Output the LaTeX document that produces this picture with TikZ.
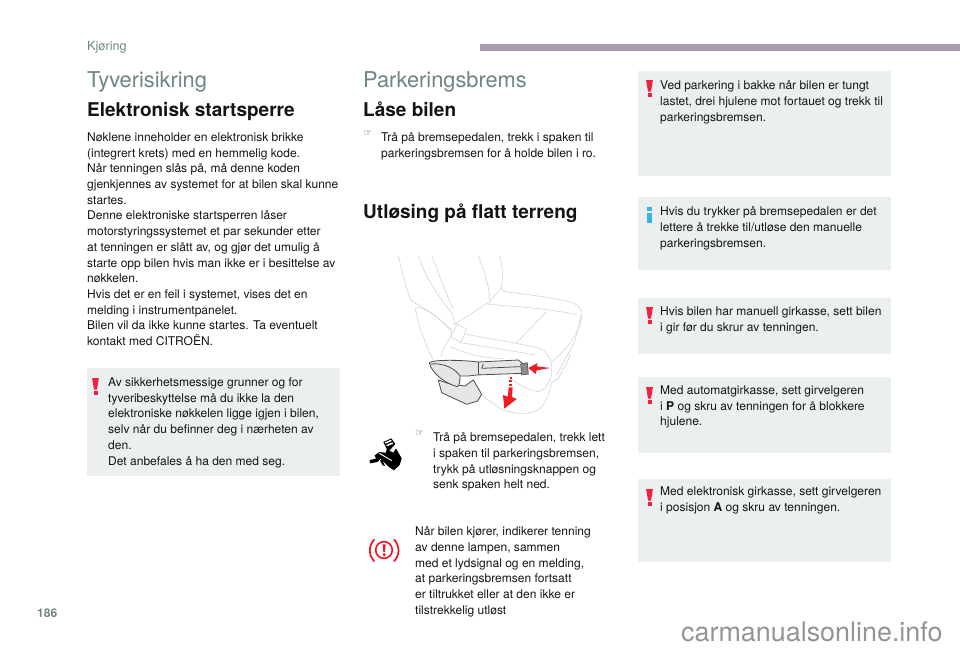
\documentclass[tikz,border=0pt]{standalone}
\usepackage{fontspec}
\setmainfont{TeX Gyre Heros}
\newfontfamily\dejavu{DejaVu Sans}
\definecolor{boxgrey}{HTML}{ECEFEF}
\definecolor{headgrey}{HTML}{6F8585}
\definecolor{barcol}{HTML}{A99CB0}
\definecolor{warnred}{HTML}{F0213F}
\definecolor{infoblue}{HTML}{35B5E5}
\definecolor{seatline}{HTML}{D3D8D6}
\definecolor{leverfill}{HTML}{E4E7E6}
\definecolor{arrowred}{HTML}{EE1C25}
\definecolor{lampred}{HTML}{F5141E}
\tikzset{
  body/.style={anchor=north west,inner sep=0pt,align=left,text=black!92,font=\fontsize{12.03}{15.7}\selectfont},
  title/.style={anchor=base west,inner sep=0pt,text=headgrey,font=\fontsize{21.8}{26}\selectfont},
  subtitle/.style={anchor=base west,inner sep=0pt,text=black!92,font=\bfseries\fontsize{19}{22}\selectfont},
  notebox/.style={fill=boxgrey,draw=none},
  seat/.style={draw=seatline,line width=0.65pt,line join=round,line cap=round},
  lever/.style={draw=black!70,line width=0.8pt,line join=round},
  pointer/.style={anchor=north west,inner sep=0pt,text=black!70,font=\dejavu\fontsize{10}{12}\selectfont},
}
\newcommand{\warnmark}[2]{%
  \fill[warnred] (#1-3.4,#2) -- (#1+3.4,#2) -- (#1+1.5,#2+11.5) -- (#1-1.5,#2+11.5) -- cycle;
  \fill[warnred] (#1-2,#2+13) rectangle (#1+2,#2+16.5);}
\begin{document}
\begin{tikzpicture}[x=1pt,y=-1pt]
\useasboundingbox (0,0) rectangle (960,649);
\fill[white] (0,0) rectangle (960,649);
% header
\fill[barcol] (480,44) rectangle (960,50.5);
\node[anchor=base west,inner sep=0pt,text=headgrey,font=\fontsize{12.7}{15}\selectfont] (hdr) at (87,50) {Kjøring};
% boxes
\fill[notebox] (87,368) rectangle (340,476);
\fill[notebox] (638,71) rectangle (891,176);
\fill[notebox] (638,197) rectangle (891,270);
\fill[notebox] (638,298) rectangle (891,354);
\fill[notebox] (638,377) rectangle (891,453);
\fill[notebox] (638,479) rectangle (891,562);
% titles
\node[title] (t1) at (87,87) {Tyverisikring};
\node[title] (t2) at (363,87) {Parkeringsbrems};
\node[subtitle] (s1) at (87,116) {Elektronisk startsperre};
\node[subtitle] (s2) at (363,116) {Låse bilen};
\node[subtitle] (s3) at (363,218) {Utløsing på flatt terreng};
% left text
\node[body] (a) at (87,132.5) {Nøklene inneholder en elektronisk brikke\\(integrert krets) med en hemmelig kode.\\Når tenningen slås på, må denne koden\\gjenkjennes av systemet for at bilen skal kunne\\startes.\\Denne elektroniske startsperren låser\\motorstyringssystemet et par sekunder etter\\at tenningen er slått av, og gjør det umulig å\\starte opp bilen hvis man ikke er i besittelse av\\nøkkelen.\\Hvis det er en feil i systemet, vises det en\\melding i instrumentpanelet.\\Bilen vil da ikke kunne startes. Ta eventuelt\\kontakt med CITROËN.};
\node[body] (b) at (108,377.5) {Av sikkerhetsmessige grunner og for\\tyveribeskyttelse må du ikke la den\\elektroniske nøkkelen ligge igjen i bilen,\\selv når du befinner deg i nærheten av\\den.\\Det anbefales å ha den med seg.};
\warnmark{95.5}{378}
% middle text
\node[pointer] (h1) at (363,131) {☞};
\node[body] (c) at (381,132.5) {Trå på bremsepedalen, trekk i spaken til\\parkeringsbremsen for å holde bilen i ro.};
\node[pointer] (h2) at (415,431) {☞};
\node[body] (d) at (433,432.5) {Trå på bremsepedalen, trekk lett\\i spaken til parkeringsbremsen,\\trykk på utløsningsknappen og\\senk spaken helt ned.};
\node[body] (e) at (415,526.5) {Når bilen kjører, indikerer tenning\\av denne lampen, sammen\\med et lydsignal og en melding,\\at parkeringsbremsen fortsatt\\er tiltrukket eller at den ikke er\\tilstrekkelig utløst};
% right text
\node[body] (f) at (660,80.5) {Ved parkering i bakke når bilen er tungt\\lastet, drei hjulene mot fortauet og trekk til\\parkeringsbremsen.};
\warnmark{649.5}{80}
\node[body] (g) at (660,206.5) {Hvis du trykker på bremsepedalen er det\\lettere å trekke til/utløse den manuelle\\parkeringsbremsen.};
\fill[infoblue] (646.5,207) rectangle (652,210.5);
\fill[infoblue] (646.5,212.5) rectangle (652,223);
\node[body] (i) at (660,306.5) {Hvis bilen har manuell girkasse, sett bilen\\i gir før du skrur av tenningen.};
\warnmark{649.5}{307}
\node[body] (j) at (660,385.5) {Med automatgirkasse, sett girvelgeren\\i \textbf{P} og skru av tenningen for å blokkere\\hjulene.};
\warnmark{649.5}{387}
\node[body] (k) at (660,486.5) {Med elektronisk girkasse, sett girvelgeren\\i posisjon \textbf{A} og skru av tenningen.};
\warnmark{649.5}{489}
% footer
\node[anchor=base west,inner sep=0pt,text=headgrey,font=\bfseries\fontsize{12}{14}\selectfont] (pg) at (37,617) {186};
\node[anchor=base west,inner sep=0pt,text=black!42,font=\fontsize{26.9}{30}\selectfont] (wm) at (681,641) {carmanualsonline.info};
% seat illustration (coordinates of a 3x crop at 370,240)
\begin{scope}[shift={(370,240)},x=0.3333pt,y=-0.3333pt]
 \draw[seat] (85,48) .. controls (95,90) and (110,150) .. (122,180) .. controls (160,205) and (205,230) .. (245,270);
 \draw[seat] (145,48) .. controls (165,110) and (205,170) .. (248,222) -- (254,250);
 \draw[seat] (186,48) .. controls (205,100) and (225,150) .. (248,205);
 \draw[seat] (325,48) .. controls (345,100) and (360,140) .. (358,185);
 \draw[seat] (388,48) .. controls (402,90) and (398,130) .. (392,145) -- (405,155) .. controls (480,165) and (570,175) .. (612,190) .. controls (640,205) and (640,225) .. (632,245) .. controls (620,290) and (580,340) .. (545,365);
 \draw[seat] (392,145) -- (360,185) -- (250,255);
 \draw[seat] (352,192) .. controls (430,200) and (540,205) .. (622,225);
 \draw[seat] (530,215) -- (440,308);
 \draw[seat] (136,205) .. controls (160,195) and (200,225) .. (245,275) -- (240,295) .. controls (225,310) and (220,330) .. (212,350);
 \draw[seat] (136,205) .. controls (140,240) and (165,310) .. (188,358);
 \draw[seat] (262,252) -- (290,268) -- (272,308) -- (243,290) -- cycle;
 \draw[seat] (285,282) .. controls (350,295) and (450,310) .. (510,325) .. controls (530,335) and (545,360) .. (545,378) -- (545,400) .. controls (540,430) and (525,450) .. (505,455) .. controls (470,450) and (440,430) .. (415,408);
 \draw[seat] (272,308) .. controls (350,320) and (440,335) .. (495,345);
 \draw[seat] (240,320) .. controls (300,345) and (340,355) .. (400,355);
 \draw[seat] (560,405) -- (595,340) -- (600,350) -- (565,415) -- (545,428) .. controls (535,470) and (525,500) .. (495,515) .. controls (460,525) and (420,520) .. (390,505) -- (335,465);
 \draw[seat] (632,225) .. controls (625,280) and (610,320) .. (595,340);
 % lever
 \filldraw[lever,fill=leverfill] (205,420) -- (215,458) -- (290,493) -- (323,483) -- (335,463) -- (310,420) -- (285,438) -- (240,432) -- cycle;
 \filldraw[lever,fill=leverfill] (178,368) .. controls (190,358) and (280,360) .. (325,366) -- (445,360) -- (460,372) -- (458,400) -- (320,405) -- (295,408) -- (270,408) .. controls (270,425) and (268,438) .. (262,440) .. controls (225,430) and (185,400) .. (178,368) -- cycle;
 \draw[lever] (182,372) .. controls (220,368) and (255,385) .. (270,408);
 \draw[lever] (325,366) -- (325,405);
 \draw[lever] (340,372) -- (335,385) -- (450,380);
 \filldraw[draw=black!70,fill=black!45,line width=0.6pt] (452,372) -- (472,368) -- (475,402) -- (455,405) -- cycle;
 % red arrows
 \fill[arrowred] (540,384) -- (500,379) -- (503,369) -- (475,384) -- (497,402) -- (500,391) -- cycle;
 \fill[arrowred] (419,410) rectangle (427,416);
 \fill[arrowred] (418,420) rectangle (427,427);
 \fill[arrowred] (417,431) rectangle (427,438);
 \fill[arrowred] (416,442) -- (428,442) -- (426,471) -- (440,477) -- (403,506) -- (399,465) -- (414,470) -- cycle;
\end{scope}
% handbrake icon (3x crop at 360,430)
\begin{scope}[shift={(360,430)},x=0.3333pt,y=-0.3333pt]
 \fill[black] (70,36) -- (94,25) -- (106,42) -- (88,62) -- (100,68) -- (108,55) -- (125,85) -- (119,105) -- (102,121) -- (88,112) -- (62,86) -- (52,96) -- (30,100) -- (29,90) -- (48,86) -- (44,76) -- (58,66) -- (78,68) -- (80,56) -- cycle;
 \fill[white] (75,37) -- (93,29) -- (95,33) -- (77,41) -- cycle;
 \fill[white] (79,45) -- (97,37) -- (99,41) -- (81,49) -- cycle;
 \draw[white,line width=0.9pt] (58,70) -- (96,92);
 \fill[black] (60,92) -- (66,88) -- (75,108) -- (68,106) -- cycle;
\end{scope}
% brake warning lamp (3x crop at 360,530)
\begin{scope}[shift={(360,530)},x=0.3333pt,y=-0.3333pt]
 \draw[lampred,line width=1.6pt] (72,60) ellipse[x radius=25,y radius=25];
 \fill[lampred] (68,43) -- (77,43) -- (75,66) -- (70,66) -- cycle;
 \fill[lampred] (72.5,74) circle[radius=5];
 \draw[lampred,line width=1.7pt] (43,28) .. controls (25,48) and (25,75) .. (43,94);
 \draw[lampred,line width=1.7pt] (102,28) .. controls (120,48) and (120,75) .. (102,94);
\end{scope}
\end{tikzpicture}
\end{document}
